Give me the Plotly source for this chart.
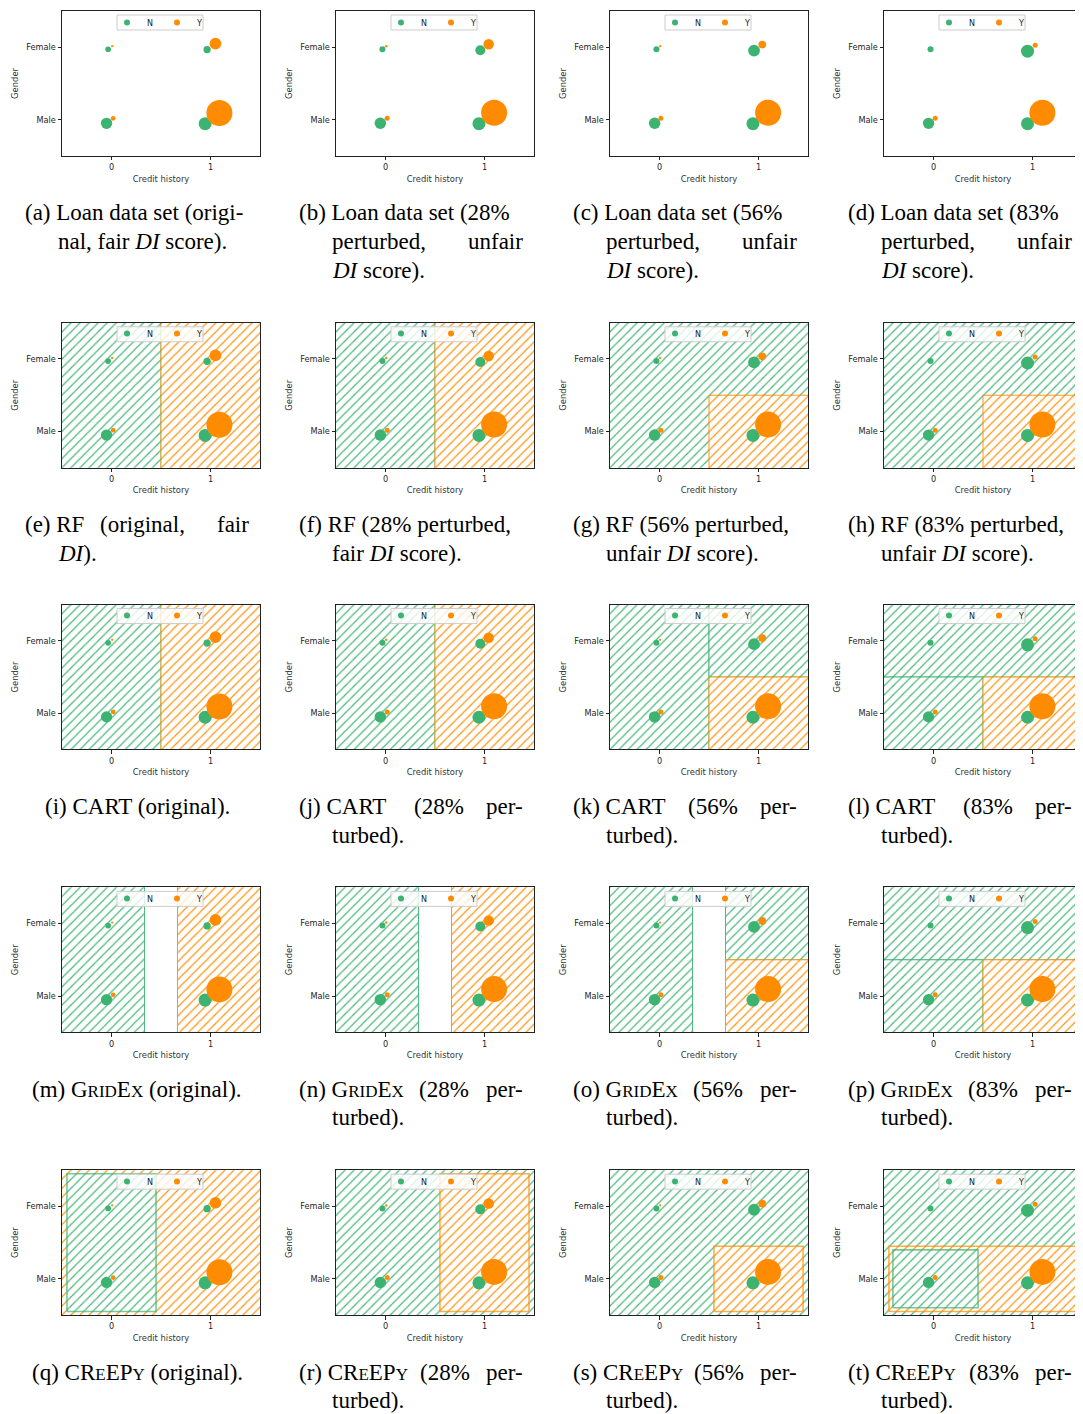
import plotly.graph_objects as go

# page is drawn inside a body with an 8px margin, so every pixel position is shifted by OFF
OFF = 8
PAGE_W, PAGE_H = 1083, 1414
FW, FH = PAGE_W - OFF, PAGE_H - OFF

GREEN = '#3cb371'
ORANGE = '#ff8c00'
HATCH = {'N': 'rgba(60,179,113,0.95)', 'Y': 'rgba(255,140,0,0.95)'}
EDGE = {'N': 'rgba(60,179,113,0.9)', 'Y': 'rgba(255,140,0,0.9)'}
BOXEDGE = {'N': 'rgba(60,179,113,0.7)', 'Y': 'rgba(255,140,0,0.7)'}
COLOR = {'N': GREEN, 'Y': ORANGE}

# ---------------- data ----------------
CLASS_NAMES = ['N', 'Y']
X_TICKS = [0, 1]
X_TICK_LABELS = ['0', '1']
Y_TICKS = [0, 1]
Y_TICK_LABELS = ['Male', 'Female']
X_TITLE = 'Credit history'
Y_TITLE = 'Gender'
X_RANGE = [-0.5, 1.5]
Y_RANGE = [-0.5, 1.5]

# one list per data set (original, 28 %, 56 %, 83 % perturbed)
# point order: Female/0, Female/1, Male/0, Male/1
N_X = [[-0.034, 0.966, -0.050, 0.946],
       [-0.031, 0.958, -0.052, 0.944],
       [-0.031, 0.955, -0.049, 0.944],
       [-0.030, 0.950, -0.050, 0.950]]
N_Y = [[0.972, 0.968, -0.050, -0.055],
       [0.972, 0.959, -0.050, -0.055],
       [0.972, 0.954, -0.050, -0.055],
       [0.972, 0.945, -0.050, -0.055]]
N_SIZE = [[5.7, 7.3, 11.3, 13.0],
          [6.0, 10.0, 11.5, 13.0],
          [6.0, 11.8, 11.5, 13.0],
          [6.0, 13.0, 11.3, 13.0]]
Y_X = [[0.007, 1.050, 0.017, 1.090],
       [0.007, 1.042, 0.017, 1.097],
       [0.007, 1.038, 0.014, 1.097],
       [0.007, 1.027, 0.017, 1.100]]
Y_Y = [[1.014, 1.050, 0.018, 0.092],
       [1.014, 1.041, 0.018, 0.096],
       [1.014, 1.037, 0.018, 0.096],
       [1.014, 1.028, 0.018, 0.096]]
Y_SIZE = [[2.3, 11.7, 4.7, 26.0],
          [2.5, 10.5, 5.0, 26.0],
          [2.3, 7.7, 5.0, 26.0],
          [0.0, 5.0, 5.0, 26.0]]

# decision regions: (x0, x1, y0, y1, class, style)  style 'r' = region, 'b' = bordered box
DATA_REGIONS = [[], [], [], []]
RF_REGIONS = [
    [(-0.5, 0.5, -0.5, 1.5, 'N', 'r'), (0.5, 1.5, -0.5, 1.5, 'Y', 'r')],
    [(-0.5, 0.5, -0.5, 1.5, 'N', 'r'), (0.5, 1.5, -0.5, 1.5, 'Y', 'r')],
    [(-0.5, 1.5, -0.5, 1.5, 'N', 'r'), (0.5, 1.5, -0.5, 0.5, 'Y', 'r')],
    [(-0.5, 1.5, -0.5, 1.5, 'N', 'r'), (0.5, 1.5, -0.5, 0.5, 'Y', 'r')],
]
CART_REGIONS = [
    [(-0.5, 0.5, -0.5, 1.5, 'N', 'r'), (0.5, 1.5, -0.5, 1.5, 'Y', 'r')],
    [(-0.5, 0.5, -0.5, 1.5, 'N', 'r'), (0.5, 1.5, -0.5, 1.5, 'Y', 'r')],
    [(-0.5, 0.5, -0.5, 1.5, 'N', 'r'), (0.5, 1.5, 0.5, 1.5, 'N', 'r'), (0.5, 1.5, -0.5, 0.5, 'Y', 'r')],
    [(-0.5, 1.5, 0.5, 1.5, 'N', 'r'), (-0.5, 0.5, -0.5, 0.5, 'N', 'r'), (0.5, 1.5, -0.5, 0.5, 'Y', 'r')],
]
GRIDEX_REGIONS = [
    [(-0.5, 1/3, -0.5, 1.5, 'N', 'r'), (2/3, 1.5, -0.5, 1.5, 'Y', 'r')],
    [(-0.5, 1/3, -0.5, 1.5, 'N', 'r'), (2/3, 1.5, -0.5, 1.5, 'Y', 'r')],
    [(-0.5, 1/3, -0.5, 1.5, 'N', 'r'), (2/3, 1.5, 0.5, 1.5, 'N', 'r'), (2/3, 1.5, -0.5, 0.5, 'Y', 'r')],
    [(-0.5, 1.5, 0.5, 1.5, 'N', 'r'), (-0.5, 0.5, -0.5, 0.5, 'N', 'r'), (0.5, 1.5, -0.5, 0.5, 'Y', 'r')],
]
CREEPY_REGIONS = [
    [(-0.5, 1.5, -0.5, 1.5, 'Y', 'r'), (-0.45, 0.45, -0.45, 1.45, 'N', 'b')],
    [(-0.5, 1.5, -0.5, 1.5, 'N', 'r'), (0.55, 1.45, -0.45, 1.45, 'Y', 'b')],
    [(-0.5, 1.5, -0.5, 1.5, 'N', 'r'), (0.55, 1.45, -0.45, 0.45, 'Y', 'b')],
    [(-0.5, 1.5, -0.5, 1.5, 'N', 'r'), (-0.45, 1.45, -0.45, 0.45, 'Y', 'b'),
     (-0.41, 0.45, -0.40, 0.40, 'N', 'b')],
]
ROW_REGIONS = [DATA_REGIONS, RF_REGIONS, CART_REGIONS, GRIDEX_REGIONS, CREEPY_REGIONS]

SC = lambda s: '<span style="font-size:17px">' + s + '</span>'
GRIDEX = 'G' + SC('RID') + 'E' + SC('X')
CREEPY = 'CR' + SC('E') + 'EP' + SC('Y')
DI = '<i>DI</i>'

# caption pieces: (line, text, placement) placement: 'l' start, 'i' indent, 'r' right, 'c' centred, ('m', offset)
CAPTIONS = [
    [[(0, '(a) Loan data set (origi-', 'l'), (1, 'nal, fair ' + DI + ' score).', 'i')],
     [(0, '(b) Loan data set (28%', 'l'), (1, 'perturbed,', 'i'), (1, 'unfair', 'r'), (2, DI + ' score).', 'i')],
     [(0, '(c) Loan data set (56%', 'l'), (1, 'perturbed,', 'i'), (1, 'unfair', 'r'), (2, DI + ' score).', 'i')],
     [(0, '(d) Loan data set (83%', 'l'), (1, 'perturbed,', 'i'), (1, 'unfair', 'r'), (2, DI + ' score).', 'i')]],
    [[(0, '(e) RF', 'l'), (0, '(original,', ('m', 119)), (0, 'fair', 'r'), (1, DI + ').', 'i')],
     [(0, '(f) RF (28% perturbed,', 'l'), (1, 'fair ' + DI + ' score).', 'i')],
     [(0, '(g) RF (56% perturbed,', 'l'), (1, 'unfair ' + DI + ' score).', 'i')],
     [(0, '(h) RF (83% perturbed,', 'l'), (1, 'unfair ' + DI + ' score).', 'i')]],
    [[(0, '(i) CART (original).', 'c')],
     [(0, '(j) CART', 'l'), (0, '(28%', ('m', 142)), (0, 'per-', 'r'), (1, 'turbed).', 'i')],
     [(0, '(k) CART', 'l'), (0, '(56%', ('m', 142)), (0, 'per-', 'r'), (1, 'turbed).', 'i')],
     [(0, '(l) CART', 'l'), (0, '(83%', ('m', 142)), (0, 'per-', 'r'), (1, 'turbed).', 'i')]],
    [[(0, '(m) ' + GRIDEX + ' (original).', 'c')],
     [(0, '(n) ' + GRIDEX, 'l'), (0, '(28%', ('m', 147)), (0, 'per-', 'r'), (1, 'turbed).', 'i')],
     [(0, '(o) ' + GRIDEX, 'l'), (0, '(56%', ('m', 147)), (0, 'per-', 'r'), (1, 'turbed).', 'i')],
     [(0, '(p) ' + GRIDEX, 'l'), (0, '(83%', ('m', 147)), (0, 'per-', 'r'), (1, 'turbed).', 'i')]],
    [[(0, '(q) ' + CREEPY + ' (original).', 'c')],
     [(0, '(r) ' + CREEPY, 'l'), (0, '(28%', ('m', 148)), (0, 'per-', 'r'), (1, 'turbed).', 'i')],
     [(0, '(s) ' + CREEPY, 'l'), (0, '(56%', ('m', 148)), (0, 'per-', 'r'), (1, 'turbed).', 'i')],
     [(0, '(t) ' + CREEPY, 'l'), (0, '(83%', ('m', 148)), (0, 'per-', 'r'), (1, 'turbed).', 'i')]],
]

# ---------------- layout geometry (page pixels) ----------------
COL_LEFT = [62, 336, 610, 884]
ROW_TOP = [10, 322, 604, 887, 1170]
AX_W, AX_H = 198, 145
CAP_Y0 = [212, 524, 806, 1089, 1372]
CAP_DY = 28.7
CAP_LEFT = [23, 297, 571, 846]
CAP_W = 228
TICK_FONT = dict(family='DejaVu Sans', size=8.2, color='#262626')


def px(x):
    return (x - OFF) / FW


def py(y):
    return 1 - (y - OFF) / FH


def extend(v, rng):
    # regions reaching the axis limit are unbounded: push their outline outside the clip area
    if v <= rng[0]:
        return rng[0] - 0.1
    if v >= rng[1]:
        return rng[1] + 0.1
    return v


fig = go.Figure()
layout = dict(width=FW, height=FH, margin=dict(l=0, r=0, t=0, b=0), autosize=False,
              plot_bgcolor='white', paper_bgcolor='white', showlegend=True)

annotations = []
shapes = []
for r in range(5):
    for c in range(4):
        k = r * 4 + c + 1
        xa = 'x' if k == 1 else f'x{k}'
        ya = 'y' if k == 1 else f'y{k}'
        legname = 'legend' if k == 1 else f'legend{k}'
        left, top = COL_LEFT[c], ROW_TOP[r]
        layout['xaxis' if k == 1 else f'xaxis{k}'] = dict(
            domain=[px(left), px(left + AX_W)], range=X_RANGE, anchor=ya,
            tickvals=X_TICKS, ticktext=X_TICK_LABELS, tickfont=TICK_FONT,
            showline=True, mirror=True, linecolor='#222', linewidth=1,
            ticks='outside', ticklen=3.5, tickcolor='#222', tickwidth=1,
            showgrid=False, zeroline=False, fixedrange=True,
            title=dict(text=X_TITLE, font=dict(family='DejaVu Sans', size=8.4, color='#333'), standoff=4))
        layout['yaxis' if k == 1 else f'yaxis{k}'] = dict(
            domain=[py(top + AX_H), py(top)], range=Y_RANGE, anchor=xa,
            tickvals=Y_TICKS, ticktext=Y_TICK_LABELS, tickfont=TICK_FONT,
            showline=True, mirror=True, linecolor='#222', linewidth=1,
            ticks='outside', ticklen=3.5, tickcolor='#222', tickwidth=1,
            showgrid=False, zeroline=False, fixedrange=True,
            title=dict(text=Y_TITLE, font=dict(family='DejaVu Sans', size=8.4, color='#333'), standoff=6))
        layout[legname] = dict(
            x=px(left + 45), xanchor='left', y=py(top - 3), yanchor='top',
            orientation='h', bgcolor='rgba(0,0,0,0)', borderwidth=0,
            font=dict(family='DejaVu Sans', size=8, color='#222'), entrywidth=5, entrywidthmode='pixels',
            itemwidth=30, tracegroupgap=0, itemclick=False, itemdoubleclick=False)
        # legend frame
        shapes.append(dict(type='rect', xref='paper', yref='paper', layer='above',
                           x0=px(left + 55), x1=px(left + 141), y0=py(top + 19), y1=py(top + 4),
                           fillcolor='rgba(255,255,255,0.8)', line=dict(color='#cccccc', width=1)))

        # decision regions
        for (x0, x1, y0, y1, cls, style) in ROW_REGIONS[r][c]:
            boxed = style == 'b'
            ex0, ex1 = extend(x0, X_RANGE), extend(x1, X_RANGE)
            ey0, ey1 = extend(y0, Y_RANGE), extend(y1, Y_RANGE)
            fig.add_trace(go.Scatter(
                x=[ex0, ex1, ex1, ex0, ex0], y=[ey0, ey0, ey1, ey1, ey0], mode='lines', fill='toself',
                fillcolor='white',
                fillpattern=dict(shape='/', fgcolor=HATCH[cls], bgcolor='white', size=6.4,
                                 solidity=0.19, fillmode='replace'),
                line=dict(color=BOXEDGE[cls] if boxed else EDGE[cls], width=1.6 if boxed else 1),
                xaxis=xa, yaxis=ya, showlegend=False, hoverinfo='skip'))

        # points
        fig.add_trace(go.Scatter(x=N_X[c], y=N_Y[c], mode='markers',
                                 marker=dict(size=N_SIZE[c], color=GREEN, line=dict(width=0), opacity=1),
                                 xaxis=xa, yaxis=ya, showlegend=False, name='N'))
        fig.add_trace(go.Scatter(x=Y_X[c], y=Y_Y[c], mode='markers',
                                 marker=dict(size=Y_SIZE[c], color=ORANGE, line=dict(width=0), opacity=1),
                                 xaxis=xa, yaxis=ya, showlegend=False, name='Y'))
        # legend entries
        for cls in CLASS_NAMES:
            fig.add_trace(go.Scatter(x=[None], y=[None], mode='markers', name=cls,
                                     marker=dict(size=6, color=COLOR[cls]),
                                     xaxis=xa, yaxis=ya, legend=legname, showlegend=True))

        # caption
        l0 = CAP_LEFT[c]
        for (line, text, place) in CAPTIONS[r][c]:
            yy = CAP_Y0[r] + line * CAP_DY
            if place == 'l':
                xx, anc = l0, 'left'
            elif place == 'i':
                xx, anc = l0 + 33, 'left'
            elif place == 'r':
                xx, anc = l0 + CAP_W, 'right'
            elif place == 'c':
                xx, anc = l0 + CAP_W / 2, 'center'
            else:
                xx, anc = l0 + place[1], 'center'
            annotations.append(dict(text=text, x=px(xx), y=py(yy), xref='paper', yref='paper',
                                    xanchor=anc, yanchor='middle', showarrow=False,
                                    font=dict(family='Liberation Serif', size=23, color='black')))

layout['annotations'] = annotations
layout['shapes'] = shapes
fig.update_layout(**layout)
fig.write_html('out.html')
